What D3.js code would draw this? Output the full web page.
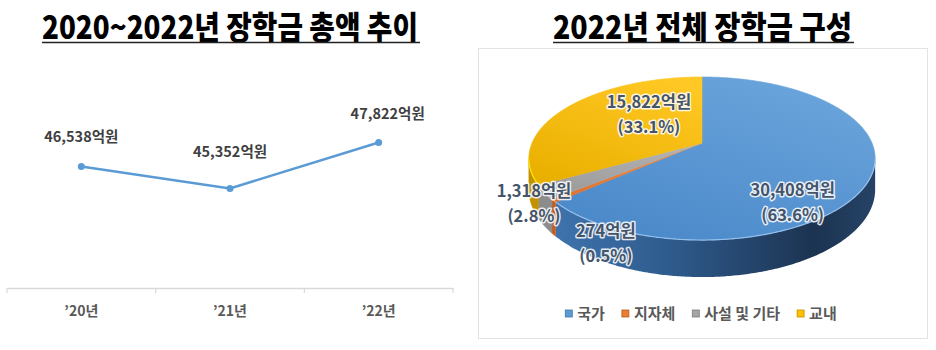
<!DOCTYPE html>
<html>
<head>
<meta charset="utf-8">
<script src="https://cdn.jsdelivr.net/npm/d3@7"></script>
<style>
  body { margin: 0; background: #fff; }
  svg { display: block; }
</style>
</head>
<body>
<svg id="c" width="936" height="350"></svg>
<script>
// ---- data ----
const years = ["’20년", "’21년", "’22년"];
const totals = [46538, 45352, 47822];               // 억원
const totalLabels = ["46,538억원", "45,352억원", "47,822억원"];

const sources = ["국가", "지자체", "사설 및 기타", "교내"];
const amounts = [30408, 274, 1318, 15822];          // 억원
const amountLabels = ["30,408억원", "274억원", "1,318억원", "15,822억원"];
const shareLabels = ["(63.6%)", "(0.5%)", "(2.8%)", "(33.1%)"];

const leftTitle = "2020~2022년 장학금 총액 추이";
const rightTitle = "2022년 전체 장학금 구성";

// ---- styling ----
const FONT = "'Noto Sans CJK KR', 'Noto Sans', sans-serif";
const topColors  = [["#6ba5dc", "#4a88c9"], ["#f08a40", "#e0702a"], ["#b3b3b3", "#9a9a9a"], ["#ffc824", "#eab000"]];
const sideColors = ["#2c5482", "#c45e1c", "#8c8c8c", "#c39200"];
const legendColors = ["#5b9bd5", "#ed7d31", "#a5a5a5", "#ffc000"];

const svg = d3.select("#c");
const defs = svg.append("defs");

// ---- titles ----
function drawTitle(text, x0, x1) {
  svg.append("text")
    .attr("x", x0).attr("y", 39)
    .attr("textLength", x1 - x0).attr("lengthAdjust", "spacingAndGlyphs")
    .style("font-family", FONT).style("font-weight", 900).style("font-size", "32px")
    .attr("fill", "#000").text(text);
  svg.append("line")
    .attr("x1", x0).attr("x2", x1 + 2).attr("y1", 42.5).attr("y2", 42.5)
    .attr("stroke", "#222").attr("stroke-width", 1.5);
}
drawTitle(leftTitle, 42, 418);
drawTitle(rightTitle, 553, 852);

// ---- line chart ----
const x = d3.scaleBand().domain(years).range([7, 453]);
const y = d3.scaleLinear().domain([40000, 50000]).range([288, 102]);

const axisG = svg.append("g").attr("transform", "translate(0,288)")
  .call(d3.axisBottom(x).tickSize(0).tickPadding(18));
axisG.select(".domain").attr("stroke", "#d9d9d9").attr("stroke-width", 1.5);
axisG.selectAll("text")
  .style("font-family", FONT).style("font-weight", 700).style("font-size", "14px")
  .attr("fill", "#595959");
// category boundary ticks
d3.range(years.length + 1).forEach(i => {
  const tx = x.range()[0] + i * x.step();
  axisG.append("line").attr("x1", tx).attr("x2", tx).attr("y1", 0).attr("y2", 5)
    .attr("stroke", "#d9d9d9").attr("stroke-width", 1.2);
});

const cxOf = d => x(d) + x.bandwidth() / 2;
svg.append("path")
  .datum(totals)
  .attr("fill", "none").attr("stroke", "#5b9bd5").attr("stroke-width", 2.5)
  .attr("d", d3.line().x((d, i) => cxOf(years[i])).y(d => y(d)));
svg.selectAll(".pt").data(totals).enter().append("circle")
  .attr("cx", (d, i) => cxOf(years[i])).attr("cy", d => y(d)).attr("r", 3.5)
  .attr("fill", "#5b9bd5");

const lineLabelOffset = [[0, -29], [0, -37], [9, -29]];
svg.selectAll(".vl").data(totals).enter().append("text")
  .attr("x", (d, i) => cxOf(years[i]) + lineLabelOffset[i][0])
  .attr("y", (d, i) => y(d) + lineLabelOffset[i][1])
  .attr("dy", "0.35em").attr("text-anchor", "middle")
  .style("font-family", FONT).style("font-weight", 700).style("font-size", "14.5px")
  .attr("fill", "#404040")
  .text((d, i) => totalLabels[i]);

// ---- pie chart frame ----
svg.append("rect").attr("x", 478.5).attr("y", 48.5).attr("width", 449).attr("height", 290)
  .attr("fill", "#fff").attr("stroke", "#e3e3e3");

// ---- 3D pie with perspective ----
const P = { cx: 702, cy: 143, rx: 170, ry: 78.6, k: 0.19, h: 30 };
function project(phi, r, drop) {
  const X = r * Math.sin(phi), Z = -r * Math.cos(phi);
  const p = 1 / (1 - P.k * Z);
  return [P.cx + P.rx * X * p, P.cy + P.ry * Z * p + drop * p];
}
const arcs = d3.pie().sort(null).startAngle(0).endAngle(2 * Math.PI)(amounts);

function samples(a0, a1) {
  const n = Math.max(2, Math.ceil((a1 - a0) / 0.01));
  return d3.range(n + 1).map(i => a0 + (a1 - a0) * i / n);
}

// gradients
arcs.forEach((a, i) => {
  const g = defs.append("linearGradient").attr("id", "top" + i)
    .attr("x1", "0.8").attr("y1", "0").attr("x2", "0.2").attr("y2", "1");
  g.append("stop").attr("offset", "0").attr("stop-color", topColors[i][0]);
  g.append("stop").attr("offset", "1").attr("stop-color", topColors[i][1]);
});
const sideGrad = defs.append("linearGradient").attr("id", "side0")
  .attr("gradientUnits", "userSpaceOnUse")
  .attr("x1", 550).attr("y1", 0).attr("x2", 880).attr("y2", 0);
sideGrad.append("stop").attr("offset", "0").attr("stop-color", "#3f74ae");
sideGrad.append("stop").attr("offset", "0.35").attr("stop-color", "#2f5c8e");
sideGrad.append("stop").attr("offset", "0.8").attr("stop-color", "#1c3351");
sideGrad.append("stop").attr("offset", "1").attr("stop-color", "#264468");

// visible front rim range
const vis0 = Math.acos(-P.k), vis1 = 2 * Math.PI - Math.acos(-P.k);
const pieG = svg.append("g");
arcs.forEach((a, i) => {
  const s = Math.max(a.startAngle, vis0), e = Math.min(a.endAngle, vis1);
  if (e <= s) return;
  const ang = samples(s, e);
  const pts = ang.map(t => project(t, 1, 0)).concat(ang.slice().reverse().map(t => project(t, 1, P.h)));
  pieG.append("path")
    .attr("d", "M" + pts.map(p => p.join(",")).join("L") + "Z")
    .attr("fill", i === 0 ? "url(#side0)" : sideColors[i])
    .attr("stroke", i === 0 ? "none" : sideColors[i]).attr("stroke-width", 0.5);
});
arcs.forEach((a, i) => {
  const pts = [[P.cx, P.cy]].concat(samples(a.startAngle, a.endAngle).map(t => project(t, 1, 0)));
  pieG.append("path")
    .attr("d", "M" + pts.map(p => p.join(",")).join("L") + "Z")
    .attr("fill", `url(#top${i})`)
    .attr("stroke", `url(#top${i})`).attr("stroke-width", 0.6);
});
// light rim highlight along the front top edge
arcs.forEach((a, i) => {
  const s = Math.max(a.startAngle, vis0), e = Math.min(a.endAngle, vis1);
  if (e <= s) return;
  const pts = samples(s, e).map(t => project(t, 1, 0));
  pieG.append("path")
    .attr("d", "M" + pts.map(p => p.join(",")).join("L"))
    .attr("fill", "none").attr("stroke", i === 0 ? "#9cc5ee" : d3.color(legendColors[i]).brighter(0.6))
    .attr("stroke-width", 1.2).attr("opacity", 0.9);
});

// slice labels
const sliceLabelOffset = [[-24, 23], [3.5, 50], [-61.5, 15], [43, -15]];
arcs.forEach((a, i) => {
  const mid = (a.startAngle + a.endAngle) / 2;
  const [lx, ly] = project(mid, 0.7, 0);
  const tx = lx + sliceLabelOffset[i][0], ty = ly + sliceLabelOffset[i][1];
  [amountLabels[i], shareLabels[i]].forEach((t, j) => {
    pieG.append("text")
      .attr("x", tx).attr("y", ty + j * 25).attr("dy", "0.35em")
      .attr("text-anchor", "middle")
      .style("font-family", FONT).style("font-weight", 700).style("font-size", "16.5px")
      .style("paint-order", "stroke")
      .attr("stroke", "#fff").attr("stroke-width", 3).attr("stroke-opacity", 0.85)
      .attr("stroke-linejoin", "round")
      .attr("fill", "#44546a").text(t);
  });
});

// legend
const legendG = svg.append("g");
let lx = 0;
sources.forEach((s, i) => {
  const item = legendG.append("g").attr("transform", `translate(${lx},0)`);
  item.append("rect").attr("x", 0).attr("y", -3.5).attr("width", 7).attr("height", 7)
    .attr("fill", legendColors[i]).attr("stroke", d3.color(legendColors[i]).darker(0.8)).attr("stroke-width", 0.8);
  const t = item.append("text").attr("x", 12).attr("y", 0).attr("dy", "0.35em")
    .style("font-family", FONT).style("font-weight", 700).style("font-size", "15px")
    .attr("fill", "#595959").text(s);
  lx += 12 + t.node().getComputedTextLength() + 17;
});
const legendW = lx - 17;
legendG.attr("transform", `translate(${701 - legendW / 2},313.5)`);
</script>
</body>
</html>
